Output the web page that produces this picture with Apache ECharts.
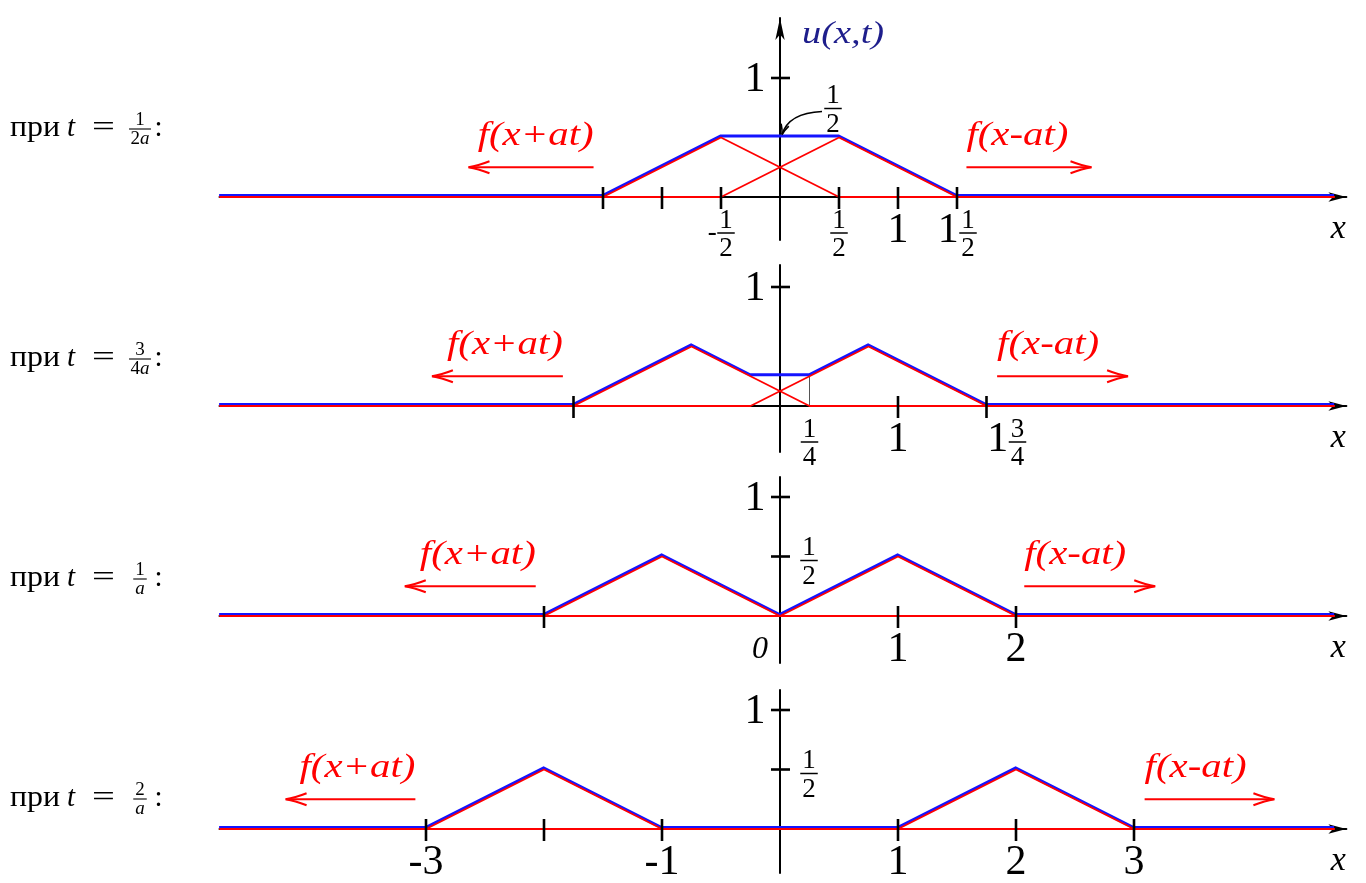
<!DOCTYPE html>
<html>
<head>
<meta charset="utf-8">
<title>u(x,t)</title>
<script src="https://cdn.jsdelivr.net/npm/echarts@6.0.0/dist/echarts.min.js"></script>
<style>
  html, body { margin: 0; padding: 0; background: #ffffff; }
  #chart { width: 1366px; height: 883px; }
</style>
</head>
<body>
<div id="chart"></div>
<script>
// Two halves of a triangular pulse (height 1 on [-1, 1]) running apart:
// u(x,t) = ½f(x+at) + ½f(x−at), drawn at four moments of time.

// ---- t = 1/(2a) ----
const t1Left    = [[-4.75, 0], [-1.5, 0], [-0.5, 0.5], [0.5, 0], [4.7, 0]];
const t1Right   = [[-4.75, 0], [-0.5, 0], [0.5, 0.5], [1.5, 0], [4.7, 0]];
const t1Sum     = [[-4.75, 0], [-1.5, 0], [-0.5, 0.5], [0.5, 0.5], [1.5, 0], [4.7, 0]];
const t1XTicks  = [-1.5, -1, -0.5, 0.5, 1, 1.5];
const t1YTicks  = [1];
const t1XLabels = [[-0.5, '-1/2'], [0.5, '1/2'], [1, '1'], [1.5, '1 1/2']];
const t1YLabels = [[1, '1']];

// ---- t = 3/(4a) ----
const t2Left    = [[-4.75, 0], [-1.75, 0], [-0.75, 0.5], [0.25, 0], [4.7, 0]];
const t2Right   = [[-4.75, 0], [-0.25, 0], [0.75, 0.5], [1.75, 0], [4.7, 0]];
const t2Sum     = [[-4.75, 0], [-1.75, 0], [-0.75, 0.5], [-0.25, 0.25], [0.25, 0.25], [0.75, 0.5], [1.75, 0], [4.7, 0]];
const t2Guide   = [[0.25, 0], [0.25, 0.25]];
const t2XTicks  = [-1.75, 1, 1.75];
const t2YTicks  = [1];
const t2XLabels = [[0.25, '1/4'], [1, '1'], [1.75, '1 3/4']];
const t2YLabels = [[1, '1']];

// ---- t = 1/a ----
const t3Left    = [[-4.75, 0], [-2, 0], [-1, 0.5], [0, 0], [4.7, 0]];
const t3Right   = [[-4.75, 0], [0, 0], [1, 0.5], [2, 0], [4.7, 0]];
const t3Sum     = [[-4.75, 0], [-2, 0], [-1, 0.5], [0, 0], [1, 0.5], [2, 0], [4.7, 0]];
const t3XTicks  = [-2, 1, 2];
const t3YTicks  = [1, 0.5];
const t3XLabels = [[0, '0'], [1, '1'], [2, '2']];
const t3YLabels = [[1, '1'], [0.5, '1/2']];

// ---- t = 2/a ----
const t4Left    = [[-4.75, 0], [-3, 0], [-2, 0.5], [-1, 0], [4.7, 0]];
const t4Right   = [[-4.75, 0], [1, 0], [2, 0.5], [3, 0], [4.7, 0]];
const t4Sum     = [[-4.75, 0], [-3, 0], [-2, 0.5], [-1, 0], [1, 0], [2, 0.5], [3, 0], [4.7, 0]];
const t4XTicks  = [-3, -2, -1, 1, 2, 3];
const t4YTicks  = [1, 0.5];
const t4XLabels = [[-3, '-3'], [-1, '-1'], [1, '1'], [2, '2'], [3, '3']];
const t4YLabels = [[1, '1'], [0.5, '1/2']];

// time captions "при t = num/den:"
const timeNum = ['1', '3', '1', '2'];
const timeDen = ['2a', '4a', 'a', 'a'];

const PANELS = [
  { left: t1Left, right: t1Right, sum: t1Sum, guide: null,    xTicks: t1XTicks, yTicks: t1YTicks, xLabels: t1XLabels, yLabels: t1YLabels },
  { left: t2Left, right: t2Right, sum: t2Sum, guide: t2Guide, xTicks: t2XTicks, yTicks: t2YTicks, xLabels: t2XLabels, yLabels: t2YLabels },
  { left: t3Left, right: t3Right, sum: t3Sum, guide: null,    xTicks: t3XTicks, yTicks: t3YTicks, xLabels: t3XLabels, yLabels: t3YLabels },
  { left: t4Left, right: t4Right, sum: t4Sum, guide: null,    xTicks: t4XTicks, yTicks: t4YTicks, xLabels: t4XLabels, yLabels: t4YLabels }
];

// ---- layout ----
const X_MIN = -4.75, X_MAX = 4.8;
const ORIGIN_PX = 780;          // where x = 0 sits
const PX_X = 118, PX_Y = 119;   // pixels per unit
const GRID_LEFT = ORIGIN_PX + X_MIN * PX_X;
const GRID_W = (X_MAX - X_MIN) * PX_X;
const BASE_Y = [197, 406, 616, 829];        // x-axis row of each panel
const AXIS_TOP = [18, 265, 477, 690];       // top end of each vertical axis
const AXIS_BOTTOM = [240, 452, 663, 873];   // bottom end of each vertical axis
const CAPTION_BASE = [138, 368, 588, 808];  // text baseline of the left captions
const ARROW_SPAN = [[1.58, 2.64], [1.84, 2.95], [2.07, 3.18], [3.09, 4.19]];
const ARROW_Y = 0.25;
const LABEL_NUDGE = [{}, { '1 3/4': 20 }, { '0': -20 }, {}];

const FONT = '"Liberation Serif", "Times New Roman", serif';
const RED = '#ff0000', BLUE = '#1414ff', NAVY = '#1e1e8c', INK = '#000000';
const BIG = 42, SMALL = 27;
const CAP = 29, CAP_FRAC = 19;

const mctx = document.createElement('canvas').getContext('2d');
function textWidth(s, font) { mctx.font = font; return mctx.measureText(s).width; }
function fontOf(size, italic) { return (italic ? 'italic ' : '') + size + 'px ' + FONT; }

function txt(s, x, y, size, o) {
  o = o || {};
  const style = {
    text: s, x: 0, y: 0, font: fontOf(size, o.italic), fill: o.color || INK,
    textAlign: o.align || 'center', textVerticalAlign: 'middle',
    align: o.align || 'center', verticalAlign: 'middle'
  };
  if (o.rich) style.rich = o.rich;
  return { type: 'text', x: x, y: y, scaleX: o.scaleX || 1, silent: true, style: style };
}
function seg(x1, y1, x2, y2, color, w) {
  return { type: 'line', silent: true, shape: { x1: x1, y1: y1, x2: x2, y2: y2 },
           style: { stroke: color, lineWidth: w, lineCap: 'butt' } };
}
function fraction(num, den, cx, bar, size, o) {
  o = o || {};
  const w = Math.max(textWidth(num, fontOf(size)), textWidth(o.denPlain || den, fontOf(size))) + (o.pad || 4);
  return [
    txt(num, cx, bar - (o.gapN || 3) - 0.34 * size, size),
    txt(den, cx, bar + (o.gapD || 7) + 0.34 * size, size, { rich: o.rich }),
    seg(cx - w / 2, bar, cx + w / 2, bar, INK, o.barW || 1.5)
  ];
}
// "1", "-3", "1/2", "-1/2", "1 1/2" ...
function axisNumber(label, cx, cy) {
  const m = label.match(/^(-?)(\d*)\s*(?:(\d+)\/(\d+))?$/);
  if (!m[3]) {
    if (label === '0') return [txt(label, cx, cy, 32, { italic: true })];
    return [txt(label, cx, cy, BIG)];
  }
  const sign = m[1], whole = m[2], num = m[3], den = m[4];
  const fracW = Math.max(textWidth(num, fontOf(SMALL)), textWidth(den, fontOf(SMALL))) + 4;
  const signW = sign ? textWidth('-', fontOf(SMALL)) + 1 : 0;
  const wholeW = whole ? textWidth(whole, fontOf(BIG)) + 1 : 0;
  let x = cx - (signW + wholeW + fracW) / 2;
  const bar = cy + 2;
  const out = [];
  if (sign) { out.push(txt('-', x + signW / 2, bar, SMALL)); x += signW; }
  if (whole) { out.push(txt(whole, x + wholeW / 2, cy, BIG)); x += wholeW; }
  return out.concat(fraction(num, den, x + fracW / 2, bar, SMALL));
}
function curve(x1, y1, cx, cy, x2, y2, color, w) {
  return { type: 'bezierCurve', silent: true,
           shape: { x1: x1, y1: y1, cpx1: cx, cpy1: cy, x2: x2, y2: y2 },
           style: { stroke: color, lineWidth: w, fill: null } };
}
// open arrowhead with slightly bent barbs
function head(tx, ty, dx, dy, len, half, color, w) {
  const n = Math.hypot(dx, dy); dx /= n; dy /= n;
  const px = -dy, py = dx;
  const bx = tx - dx * len, by = ty - dy * len;
  const mx = tx - dx * len * 0.45, my = ty - dy * len * 0.45;
  return [
    curve(bx + px * half, by + py * half, mx + px * half * 0.25, my + py * half * 0.25, tx, ty, color, w),
    curve(bx - px * half, by - py * half, mx - px * half * 0.25, my - py * half * 0.25, tx, ty, color, w)
  ];
}
function arrow(tailX, tipX, y, color) {
  const d = tipX > tailX ? 1 : -1;
  return [seg(tailX, y, tipX - d * 1, y, color, 2.2)].concat(head(tipX, y, d, 0, 21, 6, color, 2));
}

function decor(i) {
  return function (params, api) {
    const P = PANELS[i];
    const at = (x, y) => api.coord([x, y]);
    const c = [];
    P.xTicks.forEach(v => { const p = at(v, 0); c.push(seg(p[0], p[1] - 10, p[0], p[1] + 12, INK, 2.6)); });
    P.yTicks.forEach(v => { const p = at(0, v); c.push(seg(p[0] - 9, p[1], p[0] + 10, p[1], INK, 2.6)); });
    P.xLabels.forEach(l => {
      const p = at(l[0], 0);
      c.push.apply(c, axisNumber(l[1], p[0] + (LABEL_NUDGE[i][l[1]] || 0), p[1] + 34));
    });
    P.yLabels.forEach(l => {
      const p = at(0, l[0]);
      if (l[1].indexOf('/') < 0) c.push(txt(l[1], p[0] - 25, p[1] + 2, BIG));
      else { const f = l[1].split('/'); c.push.apply(c, fraction(f[0], f[1], p[0] + 29, p[1] + 4, SMALL)); }
    });
    // axis name
    const e = at(X_MAX, 0);
    c.push(txt('x', e[0] - 8, e[1] + 32, 34, { italic: true }));
    // travelling halves
    const s = ARROW_SPAN[i];
    const lTip = at(-s[1], ARROW_Y), lTail = at(-s[0], ARROW_Y);
    c.push.apply(c, arrow(lTail[0], lTip[0], lTip[1], RED));
    c.push(txt('f(x+at)', lTail[0], lTip[1] - 31, 34, { italic: true, color: RED, align: 'right', scaleX: 1.2 }));
    const rTail = at(s[0], ARROW_Y), rTip = at(s[1], ARROW_Y);
    c.push.apply(c, arrow(rTail[0], rTip[0], rTip[1], RED));
    c.push(txt('f(x-at)', rTail[0], rTip[1] - 31, 34, { italic: true, color: RED, align: 'left', scaleX: 1.2 }));
    if (i === 0) {
      const top = at(0, (BASE_Y[0] - AXIS_TOP[0]) / PX_Y);
      c.push(txt('u(x,t)', top[0] + 22, top[1] + 17, 32, { italic: true, color: NAVY, align: 'left', scaleX: 1.2 }));
      // pointer to the plateau value
      const q = at(0, 0.5);
      c.push.apply(c, fraction('1', '2', q[0] + 53, q[1] - 29, SMALL));
      c.push({ type: 'bezierCurve', silent: true,
               shape: { x1: q[0] + 42, y1: q[1] - 26, cpx1: q[0] + 18, cpy1: q[1] - 25, cpx2: q[0] + 6, cpy2: q[1] - 16, x2: q[0] + 2, y2: q[1] - 3 },
               style: { stroke: INK, lineWidth: 1.6, fill: null } });
      c.push.apply(c, head(q[0] + 2, q[1] - 3, -4, 13, 10, 4, INK, 1.6));
    }
    return { type: 'group', children: c };
  };
}

function caption(i) {
  const b = CAPTION_BASE[i];
  const mid = b - 0.3375 * CAP;
  const bar = b - 9;
  const rich = { n: { font: fontOf(CAP_FRAC) }, v: { font: fontOf(CAP_FRAC, true) } };
  const den = timeDen[i].replace(/^(\d*)(a)$/, (m, d, a) => (d ? '{n|' + d + '}' : '') + '{v|' + a + '}');
  return {
    type: 'group',
    children: [
      txt('при', 10, mid, CAP, { align: 'left', scaleX: 1.1 }),
      txt('t', 67, mid, CAP, { italic: true, align: 'left' }),
      txt('=', 103.5, mid, CAP, { scaleX: 1.4 }),
      txt(':', 158.5, mid, CAP)
    ].concat(fraction(timeNum[i], den, 140, bar, CAP_FRAC, { rich: rich, denPlain: timeDen[i], gapN: 2.5, gapD: 3.5, barW: 1.1, pad: 4 }))
  };
}

const grids = [], xAxes = [], yAxes = [], series = [];
const hidden = { show: false };
function addGrid(i, dx, dy, visible) {
  const base = BASE_Y[i], top = AXIS_TOP[i], bottom = AXIS_BOTTOM[i];
  const gi = grids.length;
  grids.push({ left: GRID_LEFT + dx, top: top + dy, width: GRID_W, height: bottom - top,
               containLabel: false, outerBoundsMode: 'none' });
  xAxes.push({ gridIndex: gi, type: 'value', min: X_MIN, max: X_MAX,
    axisLine: visible ? { show: true, onZero: true, symbol: ['none', 'arrow'], symbolSize: [7, 18],
                          lineStyle: { color: INK, width: 2 } } : hidden,
    axisTick: hidden, axisLabel: hidden, splitLine: hidden });
  yAxes.push({ gridIndex: gi, type: 'value', min: -(bottom - base) / PX_Y, max: (base - top) / PX_Y,
    axisLine: visible ? { show: true, onZero: true, symbol: i === 0 ? ['none', 'arrow'] : 'none', symbolSize: [7, 22],
                          lineStyle: { color: INK, width: 2 } } : hidden,
    axisTick: hidden, axisLabel: hidden, splitLine: hidden });
  return gi;
}

PANELS.forEach((P, i) => {
  const g = addGrid(i, 0, 0, true);
  const gb = addGrid(i, -0.4, -1.5, false);
  series.push({ type: 'line', xAxisIndex: gb, yAxisIndex: gb, data: P.sum, symbol: 'none', z: 3, silent: true,
                lineStyle: { color: BLUE, width: 3, join: 'miter' } });
  series.push({ type: 'line', xAxisIndex: g, yAxisIndex: g, data: P.left, symbol: 'none', z: 4, silent: true,
                lineStyle: { color: RED, width: 1.8 } });
  series.push({ type: 'line', xAxisIndex: g, yAxisIndex: g, data: P.right, symbol: 'none', z: 4, silent: true,
                lineStyle: { color: RED, width: 1.8 } });
  if (P.guide) {
    series.push({ type: 'line', xAxisIndex: g, yAxisIndex: g, data: P.guide, symbol: 'none', z: 2, silent: true,
                  lineStyle: { color: '#555555', width: 1 } });
  }
  series.push({ type: 'custom', xAxisIndex: g, yAxisIndex: g, data: [[0, 0]], clip: false, z: 5, silent: true,
                renderItem: decor(i) });
});

const chart = echarts.init(document.getElementById('chart'), null, { renderer: 'canvas', width: 1366, height: 883 });
chart.setOption({
  backgroundColor: '#ffffff',
  animation: false,
  grid: grids, xAxis: xAxes, yAxis: yAxes, series: series,
  graphic: { elements: [0, 1, 2, 3].map(caption) }
});
</script>
</body>
</html>
